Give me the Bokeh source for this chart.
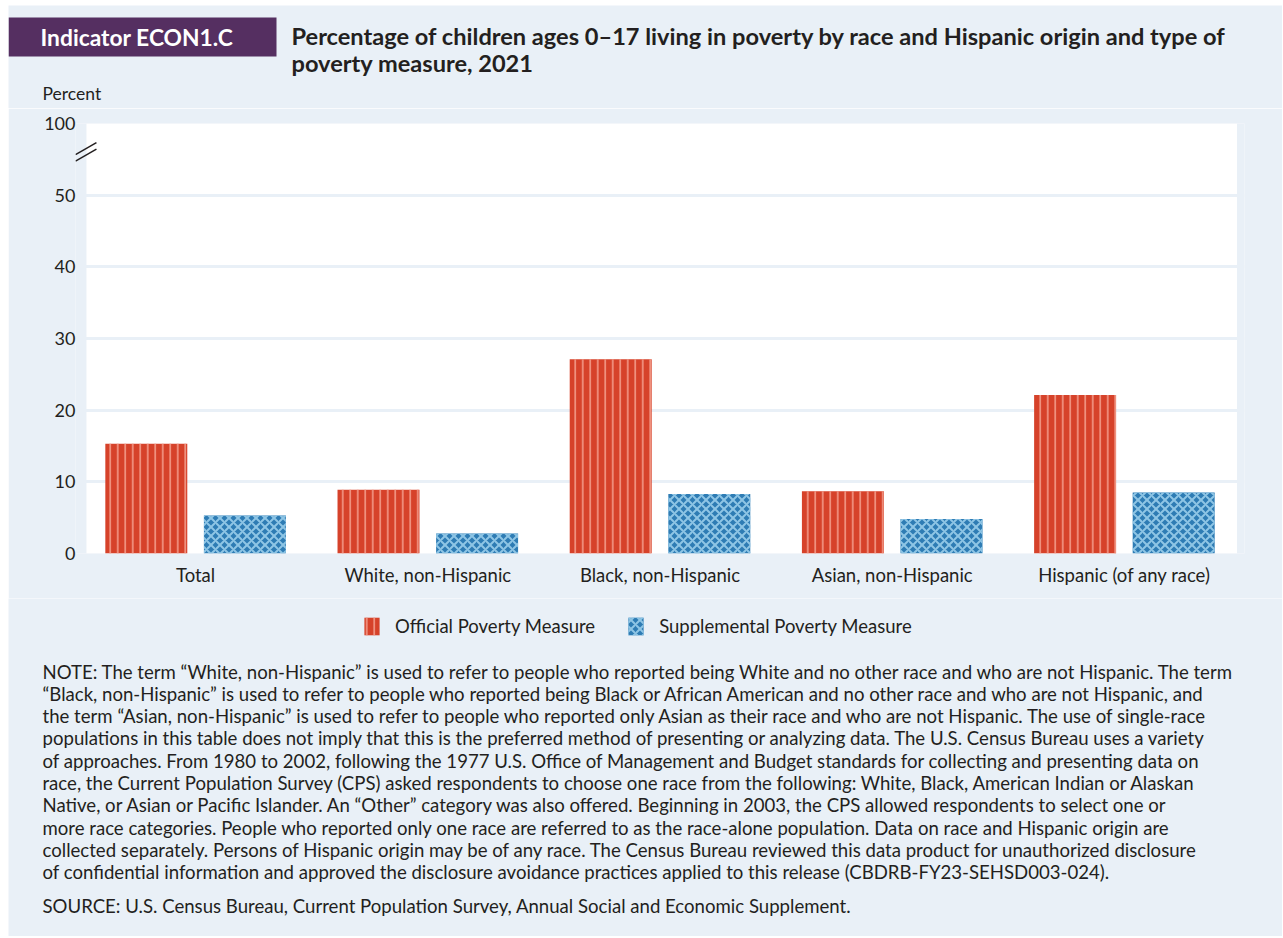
from bokeh.plotting import figure
from bokeh.layouts import column, row
from bokeh.models import (ColumnDataSource, FactorRange, Range1d, FixedTicker,
                          Legend, LegendItem, Spacer)
from bokeh.transform import dodge
from bokeh.core.properties import value
from bokeh.embed import file_html
from bokeh.resources import INLINE

# ---------------- data ----------------
categories = ["Total", "White, non-Hispanic", "Black, non-Hispanic",
              "Asian, non-Hispanic", "Hispanic (of any race)"]
official = [15.3, 8.9, 27.1, 8.7, 22.1]
supplemental = [5.3, 2.8, 8.3, 4.8, 8.5]
y_ticks = [0, 10, 20, 30, 40, 50, 60]
y_tick_labels = {60: "100"}
y_break = 55.2          # position of the axis break (between 50 and 100)
series_names = ["Official Poverty Measure", "Supplemental Poverty Measure"]

header = "Indicator ECON1.C"
title_lines = ["Percentage of children ages 0\u201317 living in poverty by race and Hispanic origin and type of",
               "poverty measure, 2021"]
note_lines = [
    "NOTE: The term \u201cWhite, non-Hispanic\u201d is used to refer to people who reported being White and no other race and who are not Hispanic. The term",
    "\u201cBlack, non-Hispanic\u201d is used to refer to people who reported being Black or African American and no other race and who are not Hispanic, and",
    "the term \u201cAsian, non-Hispanic\u201d is used to refer to people who reported only Asian as their race and who are not Hispanic. The use of single-race",
    "populations in this table does not imply that this is the preferred method of presenting or analyzing data. The U.S. Census Bureau uses a variety",
    "of approaches. From 1980 to 2002, following the 1977 U.S. Office of Management and Budget standards for collecting and presenting data on",
    "race, the Current Population Survey (CPS) asked respondents to choose one race from the following: White, Black, American Indian or Alaskan",
    "Native, or Asian or Pacific Islander. An \u201cOther\u201d category was also offered. Beginning in 2003, the CPS allowed respondents to select one or",
    "more race categories. People who reported only one race are referred to as the race-alone population. Data on race and Hispanic origin are",
    "collected separately. Persons of Hispanic origin may be of any race. The Census Bureau reviewed this data product for unauthorized disclosure",
    "of confidential information and approved the disclosure avoidance practices applied to this release (CBDRB-FY23-SEHSD003-024).",
]
source_line = "SOURCE: U.S. Census Bureau, Current Population Survey, Annual Social and Economic Supplement."

# ---------------- style ----------------
FONT = "Lato"
BG = "#E9F0F7"
TXT = "#231F20"
PURPLE = "#552F61"
RED = "#D6422A"
RED_H = "#F29A88"
BLUE = "#2E7CB4"
BLUE_H = "#8EC5E5"
W = 1274           # width of the coloured panel (page x 8 .. 1282)
X0 = 8             # page x where panel starts
NOTE_SIZE = "18.6px"

RED_STYLE = dict(fill_color=RED, line_color=None, hatch_pattern="vertical_line",
                 hatch_color=RED_H, hatch_scale=7.5, hatch_weight=1.6)
BLUE_STYLE = dict(fill_color=BLUE, line_color=None, hatch_pattern="diagonal_cross",
                  hatch_color=BLUE_H, hatch_scale=9, hatch_weight=2)


def blank_fig(y_top, y_bot):
    """A figure whose frame is the whole canvas, in page pixel coordinates."""
    f = figure(width=W, height=y_bot - y_top,
               x_range=Range1d(X0, X0 + W), y_range=Range1d(y_bot, y_top),
               output_backend="svg", toolbar_location=None,
               x_axis_location=None, y_axis_location=None,
               min_border=0, min_border_left=0, min_border_right=0,
               min_border_top=0, min_border_bottom=0, frame_align=False)
    f.background_fill_color = BG
    f.border_fill_color = BG
    f.outline_line_color = None
    f.grid.visible = False
    return f


def txt(f, x, y, text, size="18px", bold=False, color=TXT):
    f.text(x=x, y=y, text=text, text_font=value(FONT), text_font_size=size,
           text_font_style="bold" if bold else "normal", text_color=color,
           text_baseline="middle", text_align="left")


# ---------------- header ----------------
head = blank_fig(5, 108)
head.quad(left=X0, right=276, top=17, bottom=56, fill_color=PURPLE, line_color=None)
txt(head, [40], [36], [header], size="22.8px", bold=True, color="white")
txt(head, [291, 291], [35.5, 62.5], title_lines, size="23.6px", bold=True)
txt(head, [42], [93], ["Percent"], size="17.5px")

# ---------------- main chart ----------------
src = ColumnDataSource(dict(cat=categories, official=official, supplemental=supplemental))

FL, FR = 75, 1244            # page x of the frame edges
pad = 4 / 232.1              # padding (category units) on each side of the factors
p = figure(x_range=FactorRange(*categories, range_padding=pad, range_padding_units="absolute"),
           y_range=Range1d(0, 60),
           width=W, height=598 - 108,
           output_backend="svg", toolbar_location=None,
           min_border_left=FL - X0, min_border_right=X0 + W - FR,
           min_border_top=123 - 108, min_border_bottom=598 - 553, frame_align=False)
p.background_fill_color = BG
p.border_fill_color = BG
p.outline_line_color = None

# white plot area (slightly inset from the outer category edges, as in the original)
p.quad(left=0.030, right=len(categories) - 0.015, bottom=0, top=60,
       fill_color="white", line_color=None, level="image")

p.xgrid.grid_line_color = None
p.ygrid.ticker = FixedTicker(ticks=[10, 20, 30, 40, 50])
p.ygrid.grid_line_color = BG
p.ygrid.grid_line_width = 3

p.yaxis.ticker = FixedTicker(ticks=y_ticks)
p.yaxis.major_label_overrides = y_tick_labels
for ax in (p.xaxis, p.yaxis):
    ax.axis_line_color = None
    ax.major_tick_line_color = None
    ax.minor_tick_line_color = None
    ax.major_tick_out = 0
    ax.major_tick_in = 0
    ax.major_label_text_font = FONT
    ax.major_label_text_color = TXT
p.yaxis.major_label_text_font_size = "18px"
p.xaxis.major_label_text_font_size = "18.5px"
p.yaxis.major_label_standoff = 0
p.xaxis.major_label_standoff = 10

r1 = p.vbar(x=dodge("cat", -0.2123, range=p.x_range), top="official", width=0.353,
            source=src, **RED_STYLE)
r2 = p.vbar(x=dodge("cat", 0.2123, range=p.x_range), top="supplemental", width=0.353,
            source=src, **BLUE_STYLE)

# axis-break marks "//"
bx0, bx1 = -pad, 0.073
p.segment(x0=[bx0, bx0], y0=[y_break - 0.45, y_break + 0.47],
          x1=[bx1, bx1], y1=[y_break + 1.22, y_break + 2.14],
          line_color=TXT, line_width=1.5)

# ---------------- footer (legend + notes) ----------------
foot = blank_fig(598, 936)
# legend swatches: hidden stand-in renderers carrying the bar styles
e1 = foot.vbar(x=[0], top=[0], width=1, visible=False, **RED_STYLE)
e2 = foot.vbar(x=[0], top=[0], width=1, visible=False, **BLUE_STYLE)
legend = Legend(items=[LegendItem(label=series_names[0], renderers=[e1]),
                       LegendItem(label=series_names[1], renderers=[e2])],
                orientation="horizontal", location=(362 - X0, 936 - 637),
                glyph_width=19, glyph_height=22, label_standoff=14, spacing=31,
                padding=0, margin=0, background_fill_alpha=0, border_line_color=None,
                label_text_font=FONT, label_text_font_size="18.5px", label_text_color=TXT)
foot.add_layout(legend, "center")

note_y = [671 + 22.3 * i for i in range(len(note_lines))]
txt(foot, [42] * len(note_lines), note_y, note_lines, size=NOTE_SIZE)
txt(foot, [42], [905], [source_line], size=NOTE_SIZE)

layout = row(Spacer(width=X0, height=936),
             column(Spacer(width=W, height=5), head, p, foot, spacing=0),
             spacing=0)

open("out.html", "w").write(file_html(layout, INLINE))
